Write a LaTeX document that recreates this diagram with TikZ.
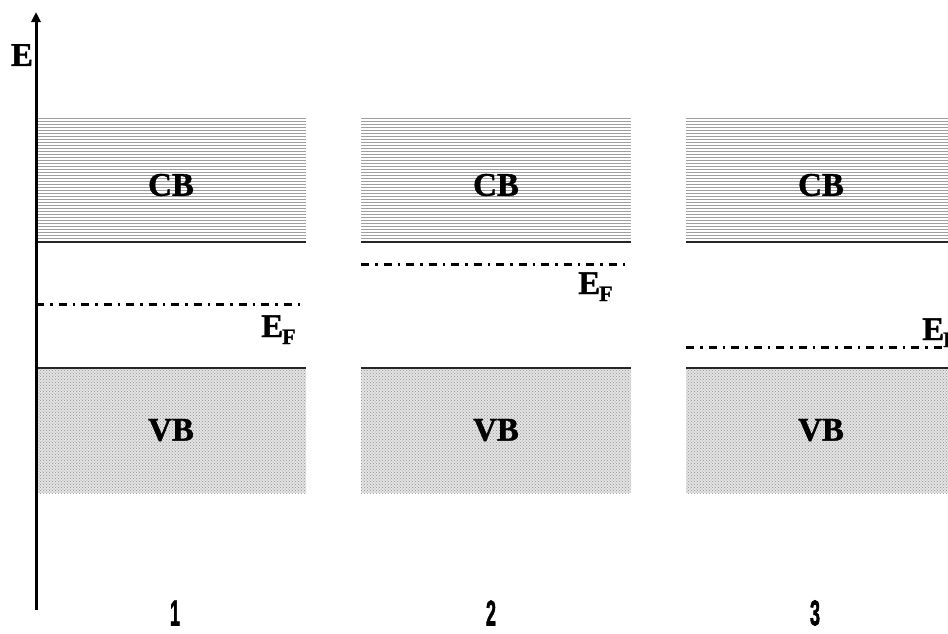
\documentclass[tikz,border=0pt]{standalone}
\usepackage{fontspec}
\setmainfont{Liberation Serif}[BoldFeatures={FakeBold=1.2}]
\newfontfamily\numfont{Liberation Sans}[BoldFeatures={FakeBold=2}]
\usetikzlibrary{patterns,arrows.meta}
\tikzset{
  lbl/.style={font=\fontsize{33}{38}\selectfont\bfseries, inner sep=0pt},
  numlbl/.style={font=\numfont\fontsize{36}{40}\selectfont\bfseries, inner sep=0pt},
  efline/.style={line width=3pt, dash pattern=on 8pt off 6pt on 2.5pt off 6pt},
  bandedge/.style={line width=2pt, black!85},
  cbline/.style={gray!75, line width=1.3pt},
}
\newcommand{\EFlabel}{E\kern-1pt\raisebox{-7pt}{\fontsize{22}{26}\selectfont F}}
\begin{document}
\begin{tikzpicture}[x=1pt,y=-1pt]
\useasboundingbox (0,0) rectangle (948,633);
% bands
\foreach \xa/\xb/\n in {36/306/1,361/631/2,686/948/3}{
  \foreach \yy in {118.5,121.5,...,240}{
    \draw[cbline] (\xa,\yy) -- (\xb,\yy);
  }
  \fill[gray!22] (\xa,368) rectangle (\xb,493);
  \fill[pattern=crosshatch dots, pattern color=gray!85] (\xa,368) rectangle (\xb,493);
  \draw[bandedge] (\xa,242) -- (\xb,242);
  \draw[bandedge] (\xa,368) -- (\xb,368);
}
% axis
\coordinate (ax0) at (36,610);
\coordinate (ax1) at (36,12);
\draw[line width=3pt, -{Triangle[length=10pt,width=9pt]}] (ax0) -- (ax1);
\node[lbl] (E) at (22,55) {E};
% labels
\node[lbl] (cb1) at (171,185) {CB};
\node[lbl] (cb2) at (496,185) {CB};
\node[lbl] (cb3) at (821,185) {CB};
\node[lbl] (vb1) at (171,430) {VB};
\node[lbl] (vb2) at (496,430) {VB};
\node[lbl] (vb3) at (821,430) {VB};
% Fermi levels
\coordinate (f1a) at (36,304); \coordinate (f1b) at (301,304);
\coordinate (f2a) at (361,264); \coordinate (f2b) at (627,264);
\coordinate (f3a) at (686,347); \coordinate (f3b) at (948,347);
\draw[efline] (f1a) -- (f1b);
\draw[efline] (f2a) -- (f2b);
\draw[efline] (f3a) -- (f3b);
\node[lbl, anchor=base west] (ef1) at (261,337) {\EFlabel};
\node[lbl, anchor=base west] (ef2) at (578,294) {\EFlabel};
\node[lbl, anchor=base west] (ef3) at (922,340) {\EFlabel};
% numbers
\node[numlbl] (n1) at (175,613) {\scalebox{0.5}[1]{1}};
\node[numlbl] (n2) at (491,613) {\scalebox{0.5}[1]{2}};
\node[numlbl] (n3) at (815,613) {\scalebox{0.5}[1]{3}};
\end{tikzpicture}
\end{document}
